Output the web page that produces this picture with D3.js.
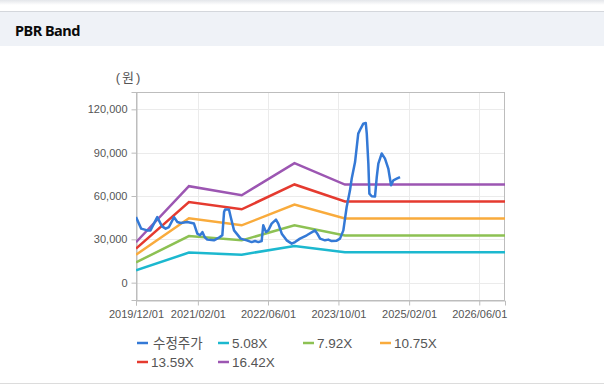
<!DOCTYPE html>
<html>
<head>
<meta charset="utf-8">
<script src="https://cdn.jsdelivr.net/npm/d3@7"></script>
<style>
  body { margin: 0; background: #fff; font-family: "Liberation Sans", "Noto Sans CJK KR", sans-serif; }
</style>
</head>
<body>
<div id="chart"></div>
<script>
// ** data */
const priceDates = ["2019-12-01","2020-01-06","2020-02-17","2020-03-10","2020-04-26","2020-05-29","2020-06-23","2020-07-16","2020-08-20","2020-09-12","2020-10-05","2020-11-20","2021-01-05","2021-01-28","2021-02-16","2021-03-04","2021-03-20","2021-04-07","2021-05-23","2021-06-27","2021-07-20","2021-08-01","2021-08-08","2021-09-04","2021-09-16","2021-10-09","2021-11-24","2022-01-05","2022-02-08","2022-03-03","2022-03-26","2022-04-18","2022-04-29","2022-05-18","2022-06-03","2022-06-26","2022-07-26","2022-08-11","2022-09-04","2022-10-08","2022-11-12","2022-12-05","2023-01-08","2023-02-24","2023-04-22","2023-05-08","2023-05-27","2023-06-30","2023-07-23","2023-08-15","2023-09-19","2023-10-12","2023-11-04","2023-11-27","2023-12-20","2024-01-01","2024-01-24","2024-02-15","2024-03-03","2024-03-21","2024-04-07","2024-04-14","2024-04-25","2024-05-02","2024-05-18","2024-06-10","2024-06-22","2024-07-03","2024-07-26","2024-08-18","2024-09-10","2024-09-29","2024-10-15","2024-11-07","2024-11-30"];
const priceValues = [45400,37400,36200,36200,45400,39000,37400,38500,45400,42000,41300,42000,40900,33900,32800,35000,31600,29800,29300,31200,32800,48900,50600,50600,45400,36200,30500,29300,28100,28800,28100,28800,39700,35000,36200,40900,43600,40900,33900,29300,27000,28100,30500,32800,36200,33900,30500,29300,29800,28800,29100,30500,36200,52400,63900,72100,83500,103200,106700,110100,110600,103200,82400,61600,59800,59600,73100,82400,89400,85900,79000,67400,70900,72000,73100];

const bandDates = ["2019-12-01","2020-12-01","2021-12-01","2022-12-01","2023-11-15","2026-11-26"];
const band508 = [8600,20800,19400,25400,21000,21000];
const band792 = [14000,32300,29300,39700,32700,32700];
const band1075 = [19300,44600,39700,54000,44400,44400];
const band1359 = [23600,55800,50800,68000,56200,56200];
const band1642 = [28000,66800,60500,82800,67900,67900];

const seriesNames = ["수정주가","5.08X","7.92X","10.75X","13.59X","16.42X"];
const seriesColors = ["#3479d6","#1cb8cf","#8dc153","#f9ab3c","#e53a2f","#9c56b2"];

const yTicks = [0,30000,60000,90000,120000];
const xTickDates = ["2019-12-01","2021-02-01","2022-06-01","2023-10-01","2025-02-01","2026-06-01"];
const xDomain = ["2019-12-01","2026-11-26"];
const yDomain = [-12000,132000];

const parse = d3.timeParse("%Y-%m-%d");

const W = 604, H = 391;
const svg = d3.select("#chart").append("svg").attr("width", W).attr("height", H);

// ** header */
const defs = svg.append("defs");
const grad = defs.append("linearGradient").attr("id","shadow").attr("x1",0).attr("y1",0).attr("x2",0).attr("y2",1);
grad.append("stop").attr("offset","0%").attr("stop-color","#e4e6ea");
grad.append("stop").attr("offset","100%").attr("stop-color","#ffffff");
svg.append("rect").attr("x",0).attr("y",0).attr("width",W).attr("height",5).attr("fill","url(#shadow)");
svg.append("rect").attr("x",0).attr("y",12).attr("width",W).attr("height",34).attr("fill","#eff2f7");
svg.append("line").attr("x1",0).attr("x2",W).attr("y1",11.5).attr("y2",11.5).attr("stroke","#d4d7dc");
svg.append("text").attr("x",15).attr("y",36).text("PBR Band")
  .attr("font-family","'Noto Sans', 'DejaVu Sans', sans-serif").attr("font-weight","bold")
  .attr("font-size",14.5).attr("letter-spacing",-0.5).attr("fill","#0a0a0a");
svg.append("line").attr("x1",0).attr("x2",W).attr("y1",383.5).attr("y2",383.5).attr("stroke","#dcdcdc");

// ** scales */
const mLeft = 136, mTop = 92, pw = 369, ph = 208;
const x = d3.scaleTime().domain(xDomain.map(parse)).range([mLeft, mLeft + pw]);
const y = d3.scaleLinear().domain(yDomain).range([mTop + ph, mTop]);

const g = svg.append("g");
// grid
g.selectAll(".hg").data(yTicks).join("line")
  .attr("x1", mLeft).attr("x2", mLeft + pw)
  .attr("y1", d => Math.round(y(d)) + 0.5).attr("y2", d => Math.round(y(d)) + 0.5)
  .attr("stroke", "#ebebeb");
g.selectAll(".vg").data(xTickDates.map(parse)).join("line")
  .attr("x1", d => Math.round(x(d)) + 0.5).attr("x2", d => Math.round(x(d)) + 0.5)
  .attr("y1", mTop).attr("y2", mTop + ph)
  .attr("stroke", "#ebebeb");
// frame
g.append("rect").attr("x", mLeft + 0.5).attr("y", mTop + 0.5).attr("width", pw - 1).attr("height", ph)
  .attr("fill", "none").attr("stroke", "#bdbdbd");

// axes
const yAxis = d3.axisLeft(y).tickValues(yTicks).tickSize(5).tickPadding(4).tickFormat(d3.format(","));
const ya = svg.append("g").attr("transform", `translate(${mLeft + 0.5},0)`).call(yAxis);
const xAxis = d3.axisBottom(x).tickValues(xTickDates.map(parse)).tickSize(5).tickPadding(5).tickFormat(d3.timeFormat("%Y/%m/%d"));
const xa = svg.append("g").attr("transform", `translate(0,${mTop + ph + 0.5})`).call(xAxis);
[ya, xa].forEach(a => {
  a.select(".domain").attr("stroke", "#bdbdbd");
  a.selectAll(".tick line").attr("stroke", "#bdbdbd");
  a.selectAll("text").attr("fill", "#555").attr("font-size", 11)
    .attr("font-family", "'Liberation Sans', Arial, sans-serif");
});

svg.append("text").attr("x", 129).attr("y", 82).attr("text-anchor", "middle")
  .attr("font-size", 13).attr("letter-spacing", 2).attr("fill", "#555").text("(원)");

// ** lines */
const line = d3.line().x(d => x(d[0])).y(d => y(d[1]));
const bandList = [band508, band792, band1075, band1359, band1642];
const clip = defs.append("clipPath").attr("id", "plot");
clip.append("rect").attr("x", mLeft).attr("y", mTop).attr("width", pw).attr("height", ph);
const lines = svg.append("g").attr("clip-path", "url(#plot)");
bandList.forEach((vals, i) => {
  lines.append("path")
    .datum(bandDates.map((d, k) => [parse(d), vals[k]]))
    .attr("d", line).attr("fill", "none")
    .attr("stroke", seriesColors[i + 1]).attr("stroke-width", 2.5);
});
lines.append("path")
  .datum(priceDates.map((d, k) => [parse(d), priceValues[k]]))
  .attr("d", line).attr("fill", "none")
  .attr("stroke", seriesColors[0]).attr("stroke-width", 2.5).attr("stroke-linejoin", "round");

// ** legend */
const legendPos = [[137,343],[218,343],[303,343],[380,343],[137,362],[218,362]];
const leg = svg.append("g").selectAll("g").data(seriesNames).join("g")
  .attr("transform", (d, i) => `translate(${legendPos[i][0]},${legendPos[i][1]})`);
leg.append("line").attr("x1", 0).attr("x2", 11).attr("y1", 0).attr("y2", 0)
  .attr("stroke", (d, i) => seriesColors[i]).attr("stroke-width", 2.5);
leg.append("text").attr("x", (d, i) => i === 0 ? 16 : 14).attr("y", 5)
  .attr("font-size", 13.5).attr("fill", "#555").text(d => d);
</script>
</body>
</html>
